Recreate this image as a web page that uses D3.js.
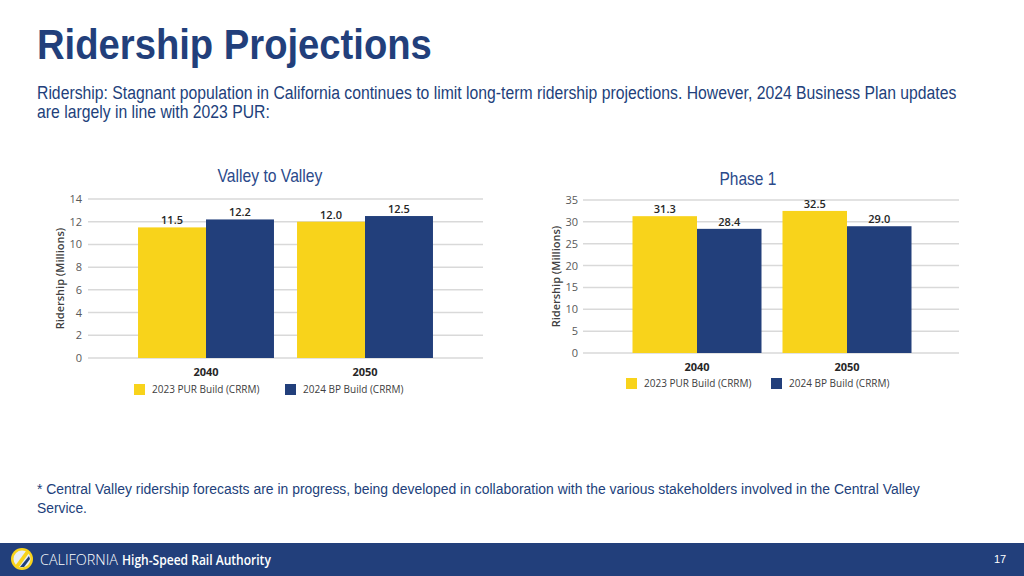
<!DOCTYPE html>
<html><head><meta charset="utf-8">
<script src="https://cdn.jsdelivr.net/npm/d3@7"></script>
<style>
html,body{margin:0;padding:0;background:#fff;}
svg{display:block;}
</style></head>
<body>
<svg id="c" width="1024" height="576"></svg>
<script>
const years = ["2040", "2050"];
const seriesNames = ["2023 PUR Build (CRRM)", "2024 BP Build (CRRM)"];
const seriesColors = ["#F8D31B", "#223F7B"];
const valleyValues = [[11.5, 12.0], [12.2, 12.5]];   // [series][year]
const phase1Values = [[31.3, 32.5], [28.4, 29.0]];
const valleyTicks = [0, 2, 4, 6, 8, 10, 12, 14];
const phase1Ticks = [0, 5, 10, 15, 20, 25, 30, 35];

const svg = d3.select("#c");
const navy = "#223F7B";
const sans = "'Liberation Sans',Arial,sans-serif";
const chartFont = "'Open Sans','Noto Sans',sans-serif";

// Condensed text: Liberation Sans squeezed horizontally to a target width
function narrowText(parent, x, y, size, weight, fill, str, width, anchor) {
  const t = parent.append("text").attr("font-family", sans).attr("font-size", size)
    .attr("font-weight", weight).attr("fill", fill).text(str);
  const w = t.node().getComputedTextLength();
  const k = width / w;
  let x0 = x;
  if (anchor === "middle") x0 = x - width / 2;
  t.attr("transform", `translate(${x0},${y}) scale(${k},1)`);
  return t;
}

// Header
narrowText(svg, 37, 59, 42, 700, navy, "Ridership Projections", 395);
narrowText(svg, 37, 99, 18, 400, navy,
  "Ridership: Stagnant population in California continues to limit long-term ridership projections. However, 2024 Business Plan updates", 920);
narrowText(svg, 37, 118, 18, 400, navy, "are largely in line with 2023 PUR:", 233);

function drawChart(cfg) {
  const g = svg.append("g");
  const y = d3.scaleLinear().domain([0, cfg.max]).range([cfg.y0, cfg.y1]);
  const x = d3.scaleBand().domain(years).range(cfg.bandRange).paddingInner(cfg.padIn).paddingOuter(cfg.padIn / 2);
  const xs = d3.scaleBand().domain([0, 1]).range([0, x.bandwidth()]);

  // title
  narrowText(g, cfg.titleX, cfg.titleY, 18, 400, "#2B4A8B", cfg.title, cfg.titleW, "middle");

  // grid
  g.append("g").selectAll("line").data(cfg.ticks).join("line")
    .attr("x1", cfg.gx0).attr("x2", cfg.gx1)
    .attr("y1", d => y(d)).attr("y2", d => y(d))
    .attr("stroke", "#D9D9D9").attr("stroke-width", 1.5);

  // y axis labels
  const ax = g.append("g").attr("transform", `translate(${cfg.gx0},0)`)
    .call(d3.axisLeft(y).tickValues(cfg.ticks).tickSize(0).tickPadding(cfg.tickPad));
  ax.select(".domain").remove();
  ax.selectAll("text").attr("font-family", chartFont).attr("font-size", 11).attr("fill", "#595959");

  // y title
  g.append("text").attr("transform", `translate(${cfg.ytX},${(cfg.y0 + cfg.y1) / 2}) rotate(-90)`)
    .attr("text-anchor", "middle").attr("dy", "0.35em")
    .attr("font-family", chartFont).attr("font-weight", 600).attr("font-size", 11).attr("fill", "#404040")
    .text("Ridership (Millions)");

  // bars
  const data = [];
  cfg.values.forEach((arr, s) => arr.forEach((v, i) => data.push({ s, year: years[i], v })));
  g.append("g").selectAll("rect").data(data).join("rect")
    .attr("x", d => x(d.year) + xs(d.s)).attr("width", xs.bandwidth())
    .attr("y", d => y(d.v)).attr("height", d => y(0) - y(d.v))
    .attr("fill", d => seriesColors[d.s]);

  // value labels
  g.append("g").selectAll("text").data(data).join("text")
    .attr("x", d => x(d.year) + xs(d.s) + xs.bandwidth() / 2)
    .attr("y", d => y(d.v) - 3).attr("text-anchor", "middle")
    .attr("font-family", chartFont).attr("font-weight", 600).attr("font-size", 11).attr("fill", "#262626")
    .text(d => d.v.toFixed(1));

  // x axis
  const xa = g.append("g").attr("transform", `translate(0,${cfg.y0})`)
    .call(d3.axisBottom(x).tickSize(0).tickPadding(cfg.xPad));
  xa.select(".domain").remove();
  xa.selectAll("text").attr("font-family", chartFont).attr("font-weight", 700).attr("font-size", 11).attr("fill", "#262626");

  // legend
  const lg = g.append("g").selectAll("g").data(seriesNames).join("g")
    .attr("transform", (d, i) => `translate(${cfg.legX[i]},${cfg.legY})`);
  lg.append("rect").attr("width", 11).attr("height", 11).attr("fill", (d, i) => seriesColors[i]);
  lg.append("text").attr("x", 18).attr("y", 5.5).attr("dy", "0.35em")
    .attr("font-family", chartFont).attr("font-size", 10).attr("fill", "#404040").text(d => d);
}

drawChart({
  title: "Valley to Valley", titleX: 270, titleY: 182, titleW: 105,
  max: 14, ticks: valleyTicks, values: valleyValues,
  y0: 358, y1: 199, gx0: 88, gx1: 483, tickPad: 6,
  bandRange: [126.5, 444.5], padIn: 0.145,
  ytX: 60, xPad: 10, legX: [134, 285], legY: 384
});
drawChart({
  title: "Phase 1", titleX: 748, titleY: 185, titleW: 57,
  max: 35, ticks: phase1Ticks, values: phase1Values,
  y0: 353, y1: 200, gx0: 583, gx1: 959, tickPad: 5,
  bandRange: [622, 922], padIn: 0.14,
  ytX: 556, xPad: 10, legX: [626, 771], legY: 378
});

// footnote
narrowText(svg, 37, 494, 15, 400, navy,
  "* Central Valley ridership forecasts are in progress, being developed in collaboration with the various stakeholders involved in the Central Valley", 883);
narrowText(svg, 37, 513, 15, 400, navy, "Service.", 50);

// footer
svg.append("rect").attr("x", 0).attr("y", 543).attr("width", 1024).attr("height", 33).attr("fill", "#223F7B");
const logo = svg.append("g").attr("transform", "translate(22,559)");
logo.append("circle").attr("r", 11).attr("fill", "#F8D31B");
logo.append("circle").attr("r", 8.5).attr("fill", "#E9EEF5");
logo.append("path").attr("d", "M-7,7 L4,-8 L7,-6 L-3,8 Z").attr("fill", "#F8D31B");
logo.append("path").attr("d", "M-2,8 L7,-3 L8,0 L2,8 Z").attr("fill", "#223F7B");
const ft = svg.append("g");
const cal = ft.append("text").attr("font-family", "'Open Sans',sans-serif").attr("font-size", 14)
  .attr("font-weight", 300).attr("fill", "#fff").text("CALIFORNIA");
cal.attr("transform", `translate(40,565) scale(${78 / cal.node().getComputedTextLength()},1)`);
const hs = ft.append("text").attr("font-family", "'Open Sans',sans-serif").attr("font-size", 14)
  .attr("font-weight", 600).attr("fill", "#fff").text("High-Speed Rail Authority");
hs.attr("transform", `translate(122,565) scale(${149 / hs.node().getComputedTextLength()},1)`);
svg.append("text").attr("x", 1000).attr("y", 563).attr("text-anchor", "middle")
  .attr("font-family", sans).attr("font-size", 11).attr("fill", "#fff").text("17");
</script>
</body></html>
